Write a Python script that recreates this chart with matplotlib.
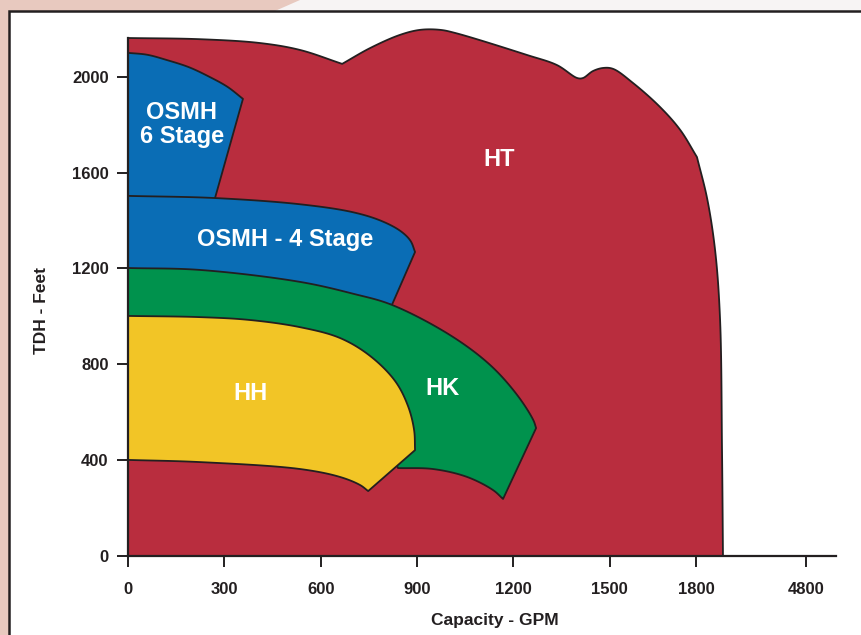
import matplotlib
matplotlib.use("Agg")
import matplotlib.pyplot as plt
from matplotlib.patches import Polygon, Rectangle
import numpy as np

# ---------------- data (Capacity GPM, TDH feet) ----------------
ht_gpm = [0, 0, 224, 411, 536, 667, 754, 847, 910, 972, 1019, 1243, 1336, 1399, 1417,
          1448, 1480, 1511, 1573, 1657, 1720, 1772, 1804, 1829, 1844, 1850, 1853]
ht_ft = [0, 2162, 2157, 2141, 2112, 2054, 2120, 2175, 2196, 2196, 2183, 2091, 2049, 1995, 1995,
         2024, 2037, 2033, 1974, 1874, 1778, 1665, 1490, 1270, 985, 442, 0]
ht_corners = [0, 1, 5, 21, 26]

osmh6_gpm = [0, 60, 121, 190, 255, 310, 358, 271, 271, 0]
osmh6_ft = [2100, 2092, 2070, 2040, 1999, 1958, 1908, 1494, 1420, 1420]
osmh6_corners = [0, 6, 7, 8, 9]

osmh4_gpm = [0, 271, 536, 700, 790, 850, 880, 894, 822, 536, 0]
osmh4_ft = [1503, 1494, 1468, 1435, 1398, 1355, 1315, 1269, 1048, 1110, 1110]
osmh4_corners = [0, 7, 8, 9, 10]

hk_gpm = [0, 224, 536, 700, 822, 1003, 1128, 1212, 1262, 1271, 1168, 1137, 1056, 950, 841, 801, 0]
hk_ft = [1202, 1194, 1144, 1095, 1048, 922, 797, 672, 568, 534, 238, 275, 330, 363, 367, 484, 484]
hk_corners = [0, 9, 10, 14, 15, 16]

hh_gpm = [0, 224, 380, 536, 660, 754, 832, 872, 891, 894, 748, 723, 660, 536, 224, 0]
hh_ft = [1002, 997, 985, 955, 910, 835, 730, 626, 526, 442, 271, 296, 330, 363, 392, 401]
hh_corners = [0, 9, 10, 15]

regions = [
    ("HT", ht_gpm, ht_ft, ht_corners, "#b92d3e"),
    ("OSMH 6 Stage", osmh6_gpm, osmh6_ft, osmh6_corners, "#0a6db5"),
    ("OSMH - 4 Stage", osmh4_gpm, osmh4_ft, osmh4_corners, "#0a6db5"),
    ("HK", hk_gpm, hk_ft, hk_corners, "#00924d"),
    ("HH", hh_gpm, hh_ft, hh_corners, "#f2c526"),
]

labels_text = ["HT", "OSMH\n6 Stage", "OSMH - 4 Stage", "HK", "HH"]
labels_gpm = [1156, 168, 489, 981, 380]
labels_ft = [1653, 1800, 1319, 701, 680]

x_tick_pos = [0, 300, 600, 900, 1200, 1500, 1769, 2113]
x_tick_labels = ["0", "300", "600", "900", "1200", "1500", "1800", "4800"]
y_ticks = [0, 400, 800, 1200, 1600, 2000]

XMAX, YMAX = 2205, 2162


def catmull(pts, n=16):
    """centripetal Catmull-Rom through pts (N x 2) in normalized space"""
    pts = np.asarray(pts, float)
    if len(pts) < 3:
        return pts
    ext = np.vstack([2 * pts[0] - pts[1], pts, 2 * pts[-1] - pts[-2]])
    out = [pts[0]]
    for i in range(1, len(ext) - 2):
        p0, p1, p2, p3 = ext[i - 1], ext[i], ext[i + 1], ext[i + 2]
        def tj(ti, a, b):
            return ti + max(np.linalg.norm(b - a), 1e-9) ** 0.5
        t0 = 0.0
        t1 = tj(t0, p0, p1)
        t2 = tj(t1, p1, p2)
        t3 = tj(t2, p2, p3)
        for t in np.linspace(t1, t2, n)[1:]:
            a1 = (t1 - t) / (t1 - t0) * p0 + (t - t0) / (t1 - t0) * p1
            a2 = (t2 - t) / (t2 - t1) * p1 + (t - t1) / (t2 - t1) * p2
            a3 = (t3 - t) / (t3 - t2) * p2 + (t - t2) / (t3 - t2) * p3
            b1 = (t2 - t) / (t2 - t0) * a1 + (t - t0) / (t2 - t0) * a2
            b2 = (t3 - t) / (t3 - t1) * a2 + (t - t1) / (t3 - t1) * a3
            c = (t2 - t) / (t2 - t1) * b1 + (t - t1) / (t2 - t1) * b2
            out.append(c)
    return np.array(out)


def smooth_outline(xs, ys, corners):
    sx, sy = XMAX / 708.0, YMAX / 518.0
    P = np.column_stack([np.asarray(xs, float) / sx, np.asarray(ys, float) / sy])
    cs = list(corners)
    out = []
    for a, b in zip(cs[:-1], cs[1:]):
        seg = catmull(P[a:b + 1])
        out.append(seg if not out else seg[1:])
    closing = np.vstack([P[cs[-1]:], P[:1]])
    out.append(catmull(closing)[1:])
    Q = np.vstack(out)
    return np.column_stack([Q[:, 0] * sx, Q[:, 1] * sy])


# ---------------- figure ----------------
W, H = 861, 635
fig = plt.figure(figsize=(W / 100, H / 100), dpi=100)
fig.patch.set_facecolor("#e8c9bf")

fig.patches.append(Polygon([(275 / W, 1 - 11 / H), (300 / W, 1.0), (1.0, 1.0), (1.0, 1 - 11 / H)],
                           closed=True, transform=fig.transFigure, facecolor="#f7f4f4",
                           edgecolor="none", zorder=0))
fig.patches.append(Rectangle((9 / W, -0.05), 1.2, 1 - 11 / H + 0.05, transform=fig.transFigure,
                             facecolor="white", edgecolor="#231f20", linewidth=1.8, zorder=1))

ax = fig.add_axes([128 / W, 1 - 556 / H, (836 - 128) / W, (556 - 38) / H])
ax.set_facecolor("none")
ax.set_zorder(2)

edge = "#231f20"
for name, xs, ys, cs, col in regions:
    pts = smooth_outline(xs, ys, cs)
    ax.add_patch(Polygon(pts, closed=True, facecolor=col, edgecolor=edge,
                         linewidth=1.3, joinstyle="round", clip_on=False))

lab_font = dict(family=["Liberation Sans", "DejaVu Sans"], weight="bold", color="white")
for t, x, y in zip(labels_text, labels_gpm, labels_ft):
    ax.text(x, y, t, ha="center", va="center", fontsize=17, linespacing=1.08, **lab_font)

ax.set_xlim(0, XMAX)
ax.set_ylim(0, YMAX)

for s in ["top", "right"]:
    ax.spines[s].set_visible(False)
for s in ["left", "bottom"]:
    ax.spines[s].set_linewidth(1.6)
    ax.spines[s].set_color(edge)
    ax.spines[s].set_zorder(5)

ax.set_xticks(x_tick_pos)
ax.set_xticklabels(x_tick_labels)
ax.set_yticks(y_ticks)
ax.tick_params(axis="both", direction="out", length=8, width=1.4, color=edge,
               labelsize=12, labelcolor="#231f20")
ax.tick_params(axis="x", pad=11)
ax.tick_params(axis="y", pad=6)
for lab in ax.get_xticklabels() + ax.get_yticklabels():
    lab.set_fontfamily(["Liberation Sans", "DejaVu Sans"])
    lab.set_fontweight("bold")

axis_font = dict(family=["Liberation Sans Narrow", "Liberation Sans", "DejaVu Sans"],
                 weight="bold", color="#231f20", fontsize=12.5)
fig.text(495 / W, 1 - 620 / H, "Capacity - GPM", ha="center", va="center", **axis_font)
fig.text(42 / W, 1 - 310 / H, "TDH - Feet", ha="center", va="center", rotation=90, **axis_font)

fig.savefig("out.png", dpi=100, facecolor=fig.get_facecolor())
